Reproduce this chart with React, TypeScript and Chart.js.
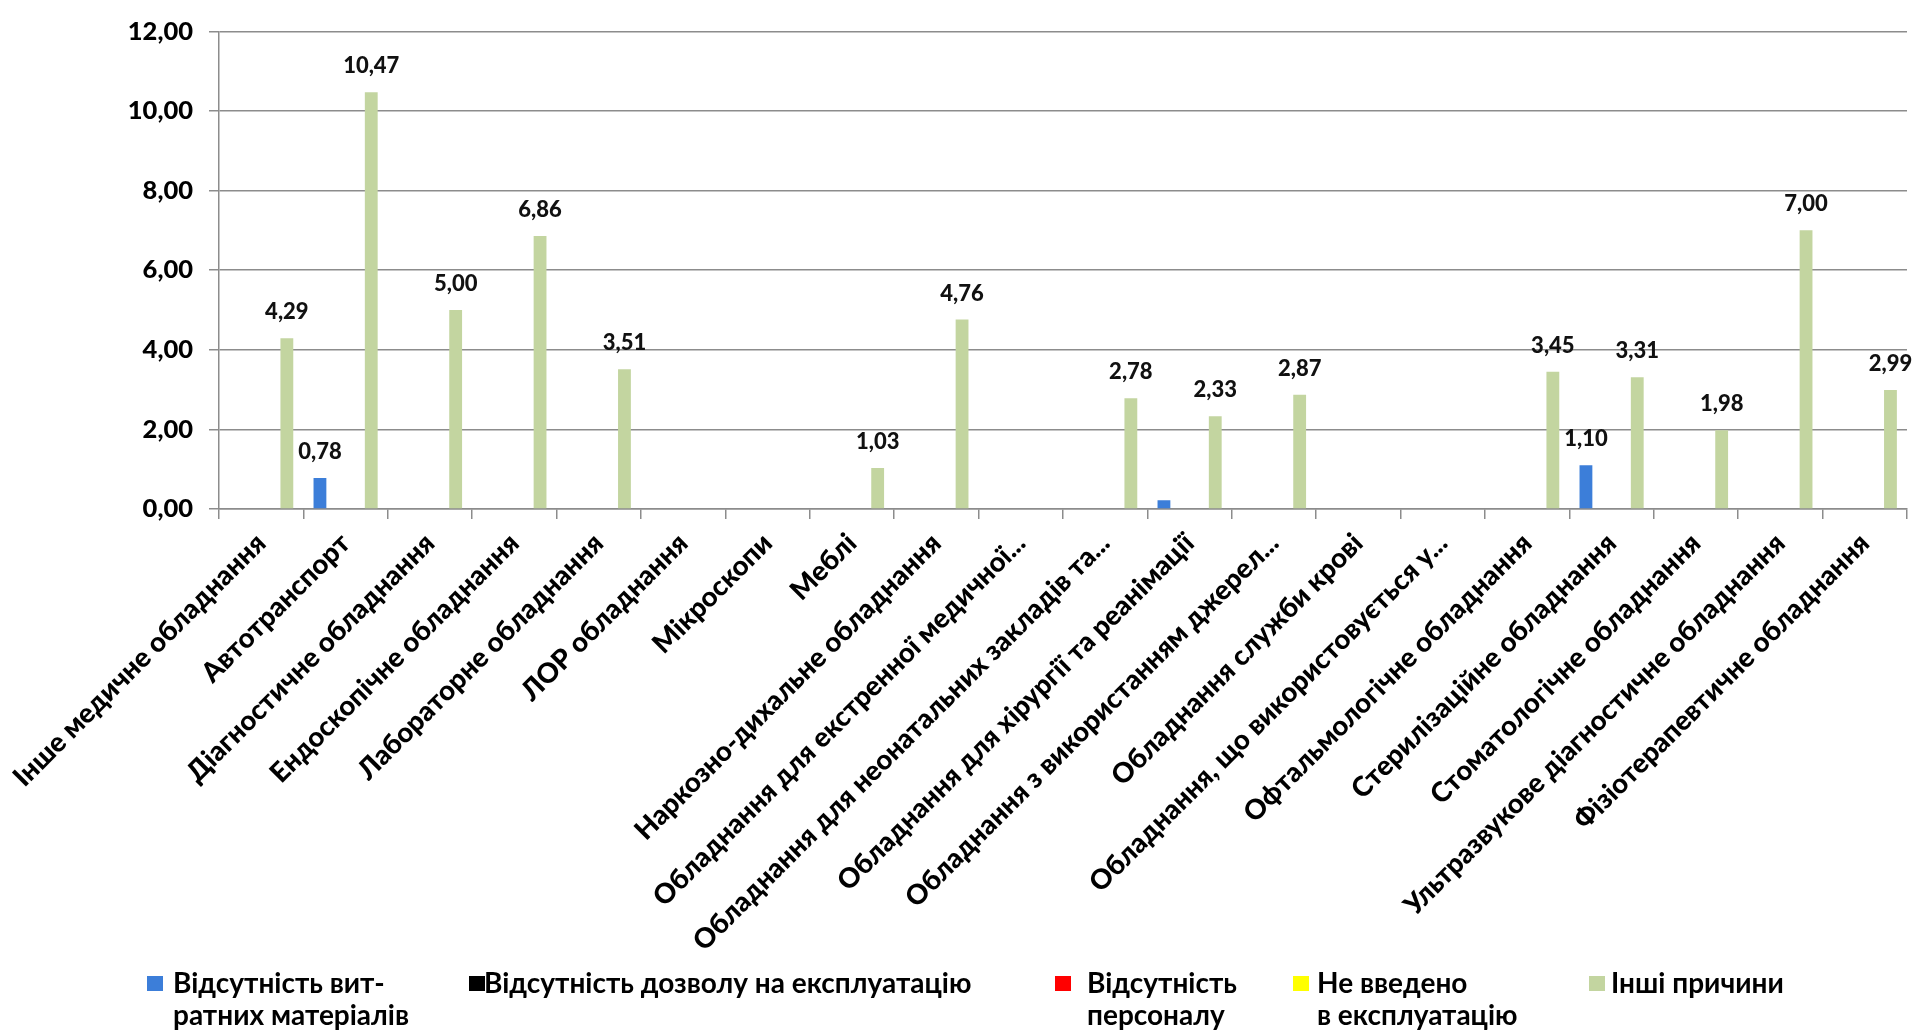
import React, { useEffect, useRef } from "react";
import { Chart, registerables } from "chart.js";

Chart.register(...registerables);

const categories = [
  "Інше медичне обладнання",
  "Автотранспорт",
  "Діагностичне обладнання",
  "Ендоскопічне обладнання",
  "Лабораторне обладнання",
  "ЛОР обладнання",
  "Мікроскопи",
  "Меблі",
  "Наркозно-дихальне обладнання",
  "Обладнання для екстренної медичної...",
  "Обладнання для неонатальних закладів та...",
  "Обладнання для хірургії та реанімації",
  "Обладнання з використанням джерел...",
  "Обладнання служби крові",
  "Обладнання, що використовується у...",
  "Офтальмологічне обладнання",
  "Стерилізаційне обладнання",
  "Стоматологічне обладнання",
  "Ультразвукове діагностичне обладнання",
  "Фізіотерапевтичне обладнання",
];

const seriesNames = [
  ["Відсутність вит-", "ратних матеріалів"],
  ["Відсутність дозволу на експлуатацію"],
  ["Відсутність", "персоналу"],
  ["Не введено", "в експлуатацію"],
  ["Інші причини"],
];

const consumablesValues = [0, 0.78, 0, 0, 0, 0, 0, 0, 0, 0, 0, 0.22, 0, 0, 0, 0, 1.1, 0, 0, 0];
const permitValues = [0, 0, 0, 0, 0, 0, 0, 0, 0, 0, 0, 0, 0, 0, 0, 0, 0, 0, 0, 0];
const staffValues = [0, 0, 0, 0, 0, 0, 0, 0, 0, 0, 0, 0, 0, 0, 0, 0, 0, 0, 0, 0];
const notCommissionedValues = [0, 0, 0, 0, 0, 0, 0, 0, 0, 0, 0, 0, 0, 0, 0, 0, 0, 0, 0, 0];
const otherValues = [4.29, 10.47, 5.0, 6.86, 3.51, 0, 0, 1.03, 4.76, 0, 2.78, 2.33, 2.87, 0, 0, 3.45, 3.31, 1.98, 7.0, 2.99];

// labels not shown in the original for these [series, category] points
const unlabeledPoints = [[0, 11]];

const yTicks = [0, 2, 4, 6, 8, 10, 12];

const colors = ["#3c7ed9", "#000000", "#ff0000", "#ffff00", "#c3d5a0"];

const FONT = "Lato, 'Open Sans', sans-serif";

const fmt = (v: number) => v.toFixed(2).replace(".", ",");

const dataLabelPlugin = {
  id: "dataLabels",
  afterDatasetsDraw(chart: any) {
    const ctx = chart.ctx;
    ctx.save();
    ctx.font = `900 22px ${FONT}`;
    ctx.fillStyle = "#111";
    ctx.textAlign = "center";
    ctx.textBaseline = "middle";
    chart.data.datasets.forEach((ds: any, i: number) => {
      const meta = chart.getDatasetMeta(i);
      meta.data.forEach((bar: any, j: number) => {
        const v = ds.data[j];
        if (!v) return;
        if (unlabeledPoints.some(([s, c]) => s === i && c === j)) return;
        ctx.fillText(fmt(v), bar.x, bar.y - 26);
      });
    });
    ctx.restore();
  },
};

const legendLayout = [
  { sq: 147, tx: 173 },
  { sq: 469, tx: 484 },
  { sq: 1055, tx: 1087 },
  { sq: 1293, tx: 1317 },
  { sq: 1589, tx: 1611 },
];

export default function App() {
  const ref = useRef<HTMLCanvasElement | null>(null);

  useEffect(() => {
    if (!ref.current) return;
    const seriesData = [consumablesValues, permitValues, staffValues, notCommissionedValues, otherValues];
    const chart = new Chart(ref.current, {
      type: "bar",
      data: {
        labels: categories,
        datasets: seriesData.map((d, i) => ({
          label: seriesNames[i].join(" "),
          data: d,
          backgroundColor: colors[i],
          borderWidth: 0,
          categoryPercentage: 0.76,
          barPercentage: 1.0,
        })),
      },
      options: {
        animation: false,
        responsive: false,
        maintainAspectRatio: false,
        layout: { padding: { top: 24, right: 12, bottom: 0, left: 0 } },
        plugins: { legend: { display: false }, tooltip: { enabled: false } },
        scales: {
          x: {
            grid: {
              display: true,
              drawOnChartArea: false,
              drawTicks: true,
              tickLength: 10,
              color: "#8c8c8c",
              lineWidth: 1.5,
              offset: true,
            },
            border: { color: "#8c8c8c", width: 1.5 },
            ticks: {
              autoSkip: false,
              maxRotation: 45,
              minRotation: 45,
              padding: 8,
              color: "#000",
              font: { family: FONT, size: 27.5, weight: "900" },
            },
            afterFit: (s: any) => {
              s.height = 526;
              s.paddingLeft = 0;
              s.paddingRight = 0;
            },
          },
          y: {
            min: 0,
            max: 12,
            afterBuildTicks: (s: any) => {
              s.ticks = yTicks.map((v) => ({ value: v }));
            },
            ticks: {
              callback: (v: any) => fmt(Number(v)),
              padding: 16,
              color: "#000",
              font: { family: FONT, size: 25.5, weight: "900" },
            },
            grid: { color: "#8c8c8c", lineWidth: 1.5, tickLength: 10 },
            border: { color: "#8c8c8c", width: 1.5 },
            afterFit: (s: any) => {
              s.width = 219;
            },
          },
        },
      },
      plugins: [dataLabelPlugin],
    } as any);
    return () => chart.destroy();
  }, []);

  return (
    <div style={{ position: "fixed", left: 0, top: 0, width: 1919, height: 1035, background: "#fff" }}>
      <canvas ref={ref} width={1919} height={1035} style={{ display: "block", width: 1919, height: 1035 }} />
      {seriesNames.map((lines, i) => (
        <React.Fragment key={i}>
          <div
            style={{
              position: "absolute",
              left: legendLayout[i].sq,
              top: 976,
              width: 16,
              height: 15,
              background: colors[i],
            }}
          />
          <div
            style={{
              position: "absolute",
              left: legendLayout[i].tx,
              top: 966,
              fontFamily: FONT,
              fontWeight: 700,
              fontSize: 28,
              lineHeight: "32px",
              color: "#000",
              whiteSpace: "pre",
            }}
          >
            {lines.map((l, k) => (
              <div key={k}>{l}</div>
            ))}
          </div>
        </React.Fragment>
      ))}
    </div>
  );
}
